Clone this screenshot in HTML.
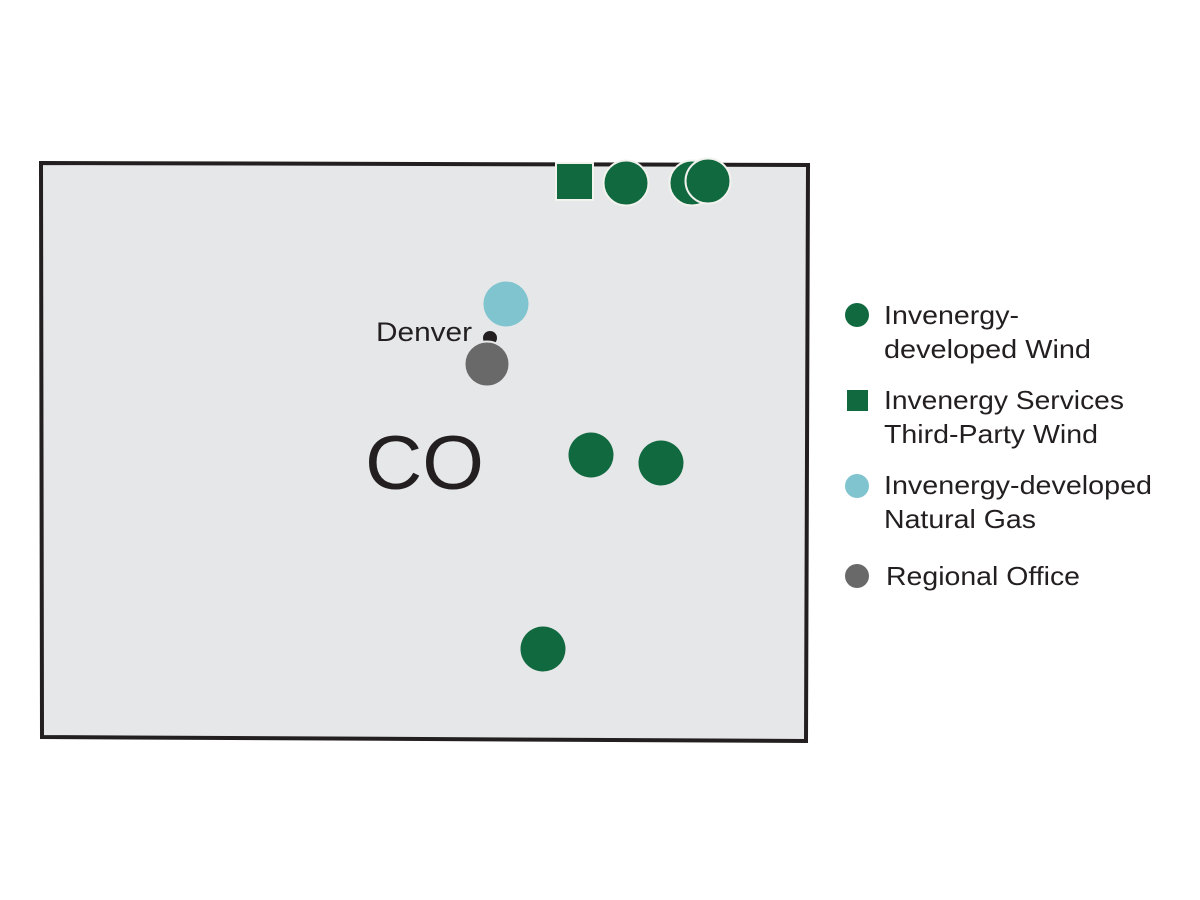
<!DOCTYPE html>
<html><head><style>
body{margin:0;background:#fff;}
svg{display:block}
text{font-family:"Liberation Sans",Arial,sans-serif;fill:#231f20}
</style></head><body>
<svg width="1200" height="900" viewBox="0 0 1200 900">
<polygon points="41,163 808,165 806,741 42,737" fill="#e6e7e8" stroke="#231f20" stroke-width="4"/>
<g stroke="#f2f2ee" stroke-width="2">
<rect x="556" y="163" width="37" height="37" fill="#116940"/>
<circle cx="626" cy="183" r="22.5" fill="#116940"/>
<circle cx="692" cy="183" r="22.5" fill="#116940"/>
<circle cx="708" cy="181" r="22.5" fill="#116940"/>
<circle cx="506" cy="304" r="22.5" fill="#7fc4cf" stroke="none"/>
<circle cx="490" cy="338" r="7" fill="#231f20" stroke="none"/>
<circle cx="487" cy="364" r="22.5" fill="#696969" stroke="#e6e7e8"/>
<circle cx="591" cy="455" r="22.5" fill="#116940" stroke="none"/>
<circle cx="661" cy="463" r="22.5" fill="#116940" stroke="none"/>
<circle cx="543" cy="649" r="22.5" fill="#116940" stroke="none"/>
</g>
<text x="376" y="341" font-size="27" textLength="96" lengthAdjust="spacingAndGlyphs">Denver</text>
<text x="365" y="489" font-size="76" textLength="119" lengthAdjust="spacingAndGlyphs">CO</text>
<circle cx="857" cy="315" r="12" fill="#116940"/>
<rect x="847" y="390" width="21" height="21" fill="#116940"/>
<circle cx="857" cy="486" r="12" fill="#7fc4cf"/>
<circle cx="857" cy="576" r="12" fill="#696969"/>
<g font-size="26" lengthAdjust="spacingAndGlyphs">
<text x="884" y="324" textLength="135" lengthAdjust="spacingAndGlyphs">Invenergy-</text>
<text x="884" y="358" textLength="207" lengthAdjust="spacingAndGlyphs">developed Wind</text>
<text x="884" y="409" textLength="240" lengthAdjust="spacingAndGlyphs">Invenergy Services</text>
<text x="884" y="443" textLength="214" lengthAdjust="spacingAndGlyphs">Third-Party Wind</text>
<text x="884" y="494" textLength="268" lengthAdjust="spacingAndGlyphs">Invenergy-developed</text>
<text x="884" y="528" textLength="152" lengthAdjust="spacingAndGlyphs">Natural Gas</text>
<text x="886" y="585" textLength="194" lengthAdjust="spacingAndGlyphs">Regional Office</text>
</g>
</svg>
</body></html>
